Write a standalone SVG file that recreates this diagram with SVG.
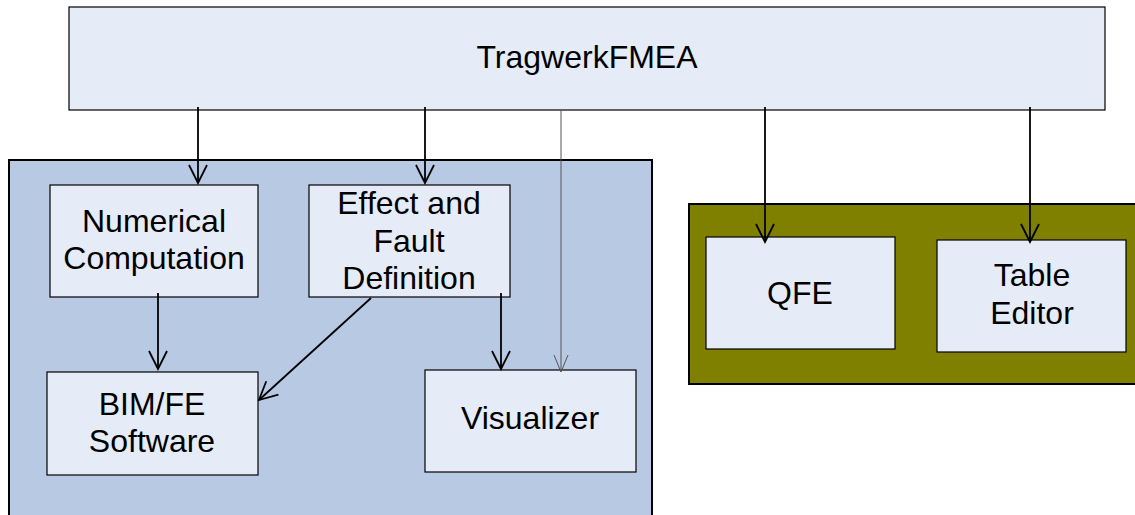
<svg xmlns="http://www.w3.org/2000/svg" width="1135" height="515" viewBox="0 0 1135 515">
  <style>
    .node { fill: #e6ecf7; stroke: #000; stroke-width: 1.2; }
    .lbl { font-family: "Liberation Sans", Arial, sans-serif; font-size: 32px; fill: #000; text-anchor: middle; }
    .conn { fill: none; stroke: #000; stroke-width: 1.8; }
    .conn-thin { fill: none; stroke: #555; stroke-width: 1; }
  </style>
  <defs>
    <!-- open V arrowheads, drawn pointing along +x so orient="auto" follows the line -->
    <marker id="vee" viewBox="0 0 22 20" refX="20" refY="10" markerWidth="22" markerHeight="20" markerUnits="userSpaceOnUse" orient="auto">
      <path d="M2 1 L20 10 L2 19" fill="none" stroke="#000" stroke-width="1.8"/>
    </marker>
    <marker id="vee-thin" viewBox="0 0 22 20" refX="20" refY="10" markerWidth="22" markerHeight="20" markerUnits="userSpaceOnUse" orient="auto">
      <path d="M3 3 L20 10 L3 17" fill="none" stroke="#555" stroke-width="1"/>
    </marker>
  </defs>
  <rect width="1135" height="515" fill="#fff"/>

  <!-- containers -->
  <g id="group-core">
    <rect x="9" y="160" width="643" height="370" fill="#b8cae3" stroke="#000" stroke-width="2"/>
  </g>
  <g id="group-tools">
    <rect x="689" y="204" width="460" height="180" fill="#808000" stroke="#000" stroke-width="2"/>
  </g>

  <!-- nodes -->
  <g id="tragwerkfmea">
    <rect class="node" x="69" y="7" width="1036" height="103"/>
    <text class="lbl" x="587" y="68">TragwerkFMEA</text>
  </g>
  <g id="numerical-computation">
    <rect class="node" x="50" y="185" width="208" height="112"/>
    <text class="lbl" x="154" y="232">Numerical</text>
    <text class="lbl" x="154" y="269">Computation</text>
  </g>
  <g id="effect-fault-definition">
    <rect class="node" x="309" y="185" width="201" height="112"/>
    <text class="lbl" x="409" y="214">Effect and</text>
    <text class="lbl" x="409" y="252">Fault</text>
    <text class="lbl" x="409" y="289">Definition</text>
  </g>
  <g id="bim-fe-software">
    <rect class="node" x="47" y="372" width="211" height="103"/>
    <text class="lbl" x="152" y="415">BIM/FE</text>
    <text class="lbl" x="152" y="452">Software</text>
  </g>
  <g id="visualizer">
    <rect class="node" x="425" y="370" width="211" height="102"/>
    <text class="lbl" x="530" y="429">Visualizer</text>
  </g>
  <g id="qfe">
    <rect class="node" x="706" y="237" width="189" height="112"/>
    <text class="lbl" x="800" y="304">QFE</text>
  </g>
  <g id="table-editor">
    <rect class="node" x="937" y="240" width="189" height="112"/>
    <text class="lbl" x="1032" y="286">Table</text>
    <text class="lbl" x="1032" y="324">Editor</text>
  </g>

  <!-- connectors -->
  <g id="connectors">
    <line class="conn" x1="198" y1="107" x2="198" y2="183" marker-end="url(#vee)"/>
    <line class="conn" x1="425" y1="107" x2="425" y2="183" marker-end="url(#vee)"/>
    <line class="conn-thin" x1="561" y1="110" x2="561" y2="372" marker-end="url(#vee-thin)"/>
    <line class="conn" x1="765" y1="107" x2="765" y2="242" marker-end="url(#vee)"/>
    <line class="conn" x1="1030" y1="107" x2="1030" y2="242" marker-end="url(#vee)"/>
    <line class="conn" x1="158" y1="293" x2="158" y2="369" marker-end="url(#vee)"/>
    <line class="conn" x1="501" y1="293" x2="501" y2="369" marker-end="url(#vee)"/>
    <line class="conn" x1="371" y1="298" x2="259" y2="400" marker-end="url(#vee)"/>
  </g>
</svg>
